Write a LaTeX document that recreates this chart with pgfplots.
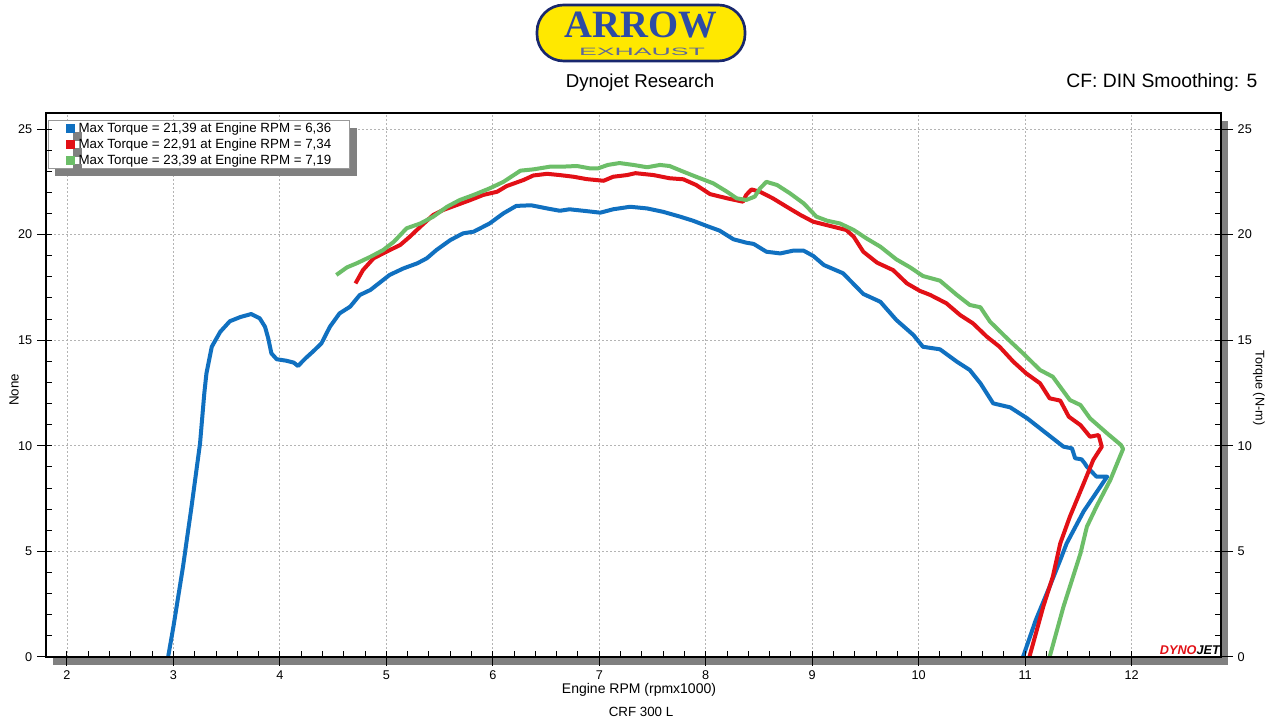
\documentclass[border=0pt]{standalone}
\usepackage{fontspec}
\setmainfont{Liberation Sans}
\newfontfamily\serifb{Liberation Serif}
\usepackage{pgfplots}
\pgfplotsset{compat=1.18}
\usetikzlibrary{backgrounds,shadows}
\definecolor{cblue}{RGB}{16,112,192}
\definecolor{cred}{RGB}{226,16,22}
\definecolor{cgreen}{RGB}{108,190,104}
\definecolor{shgray}{RGB}{128,128,128}
\definecolor{gridc}{RGB}{180,180,180}
\definecolor{navy}{RGB}{25,40,110}
\definecolor{logoyellow}{RGB}{255,232,0}
\definecolor{logoblue}{RGB}{45,75,165}

\pgfplotsset{
  common/.style={
    at={(34.5pt,47.25pt)}, anchor=south west,
    width=881.25pt, height=408pt, scale only axis,
    xmin=1.803, xmax=12.84, ymin=0, ymax=25.76,
    xtick={2,...,12}, ytick={0,5,...,25},
    axis line style={line width=0.9pt},
    tick style={black, line width=0.75pt},
    /pgf/number format/assume math mode=true,
    ticklabel style={font=\fontsize{9.5}{11}\selectfont},
  }
}

\begin{document}
\begin{tikzpicture}
\useasboundingbox (0,0) rectangle (960pt,540pt);

% logo
\draw[line width=2pt, draw=navy, fill=logoyellow, rounded corners=20pt] (402.75pt,494.25pt) rectangle (558.75pt,536.25pt);
\node[text=logoblue, inner sep=0pt, font=\serifb\bfseries\fontsize{29}{29}\selectfont] at (480.5pt,521pt) {ARROW};
\node[text=navy!70, inner sep=0pt, xscale=2.5, transform shape, font=\fontsize{8}{8}\selectfont] at (481.5pt,501pt) {EXHAUST};

% titles
\node[font=\fontsize{14}{16}\selectfont] at (480pt,477.75pt) {Dynojet Research};
\node[font=\fontsize{14.5}{16}\selectfont, anchor=east] at (946.5pt,477.75pt) {CF: DIN Smoothing: 5};
\node[font=\fontsize{10.5}{12}\selectfont] at (479.25pt,22.5pt) {Engine RPM (rpmx1000)};
\node[font=\fontsize{10}{12}\selectfont] at (480.75pt,6pt) {CRF 300 L};
\node[font=\fontsize{10}{12}\selectfont, rotate=90] at (10.5pt,247.5pt) {None};
\node[font=\fontsize{9.5}{12}\selectfont, rotate=-90] at (944.25pt,249pt) {Torque (N-m)};

\begin{axis}[common, name=ax,
  tick align=outside, major tick length=6.75pt, minor tick num=0,
  tick pos=left,
  grid=major, major grid style={gridc, line width=0.6pt, dash pattern=on 1.5pt off 1.5pt},
  axis background/.style={fill=white},
  legend cell align=left,
  legend style={at={(0,1)}, anchor=north west, xshift=1.3pt, yshift=-5.25pt,
    draw=gray!80, fill=white, line width=0.6pt,
    general shadow={fill=shgray, draw=none, shadow xshift=5.25pt, shadow yshift=-6pt},
    inner xsep=13.2pt, inner ysep=0pt, row sep=0pt, column sep=2.5pt,
    font=\fontsize{10}{12}\selectfont,
    nodes={inner sep=0.5pt, text height=8.3pt, text depth=2.7pt}},
  legend image code/.code={\path[fill, draw=none] (0pt,-3.3pt) rectangle (6.6pt,3.3pt);},
]
\addplot[color=cblue, line width=3pt, line join=round] coordinates {
(2.95,0) (3.00,1.44) (3.09,4.28) (3.17,7.12) (3.25,10.12) (3.29,12.49) (3.31,13.43) (3.36,14.69) (3.44,15.4) (3.53,15.9) (3.63,16.1) (3.73,16.24) (3.81,16.04) (3.86,15.64) (3.89,15.1) (3.92,14.38) (3.97,14.1) (4.06,14.03) (4.13,13.94) (4.17,13.78) (4.24,14.14) (4.31,14.46) (4.39,14.85) (4.47,15.64) (4.56,16.27) (4.66,16.59) (4.75,17.14) (4.85,17.38) (5.03,18.09) (5.16,18.4) (5.29,18.64) (5.38,18.88) (5.47,19.27) (5.60,19.74) (5.72,20.06) (5.82,20.14) (5.97,20.53) (6.10,21.01) (6.22,21.36) (6.36,21.39) (6.51,21.24) (6.63,21.13) (6.72,21.2) (6.85,21.13) (7.01,21.04) (7.13,21.2) (7.29,21.32) (7.45,21.24) (7.60,21.08) (7.76,20.85) (7.88,20.66) (8.01,20.41) (8.13,20.19) (8.26,19.78) (8.38,19.62) (8.45,19.56) (8.57,19.19) (8.70,19.11) (8.82,19.24) (8.92,19.24) (9.01,18.99) (9.11,18.56) (9.29,18.17) (9.48,17.19) (9.64,16.82) (9.79,15.96) (9.95,15.25) (10.04,14.69) (10.20,14.57) (10.36,13.98) (10.48,13.59) (10.58,12.96) (10.70,12.01) (10.86,11.82) (11.02,11.3) (11.20,10.59) (11.36,9.96) (11.44,9.88) (11.47,9.41) (11.53,9.36) (11.56,9.17) (11.58,9.01) (11.67,8.54) (11.77,8.54) (11.55,6.9) (11.39,5.38) (11.33,4.59) (11.23,3.33) (11.10,1.75) (10.98,0)};
\addlegendentry{Max Torque = 21,39 at Engine RPM = 6,36}
\addplot[color=cred, line width=3pt, line join=round] coordinates {
(4.71,17.69) (4.78,18.32) (4.88,18.88) (5.0,19.19) (5.13,19.51) (5.22,19.9) (5.32,20.38) (5.44,20.93) (5.53,21.16) (5.66,21.4) (5.79,21.64) (5.91,21.88) (6.04,22.03) (6.13,22.3) (6.29,22.59) (6.38,22.8) (6.51,22.88) (6.63,22.82) (6.76,22.74) (6.88,22.63) (7.04,22.55) (7.13,22.74) (7.26,22.82) (7.34,22.91) (7.51,22.82) (7.66,22.67) (7.79,22.62) (7.91,22.35) (8.04,21.92) (8.2,21.72) (8.35,21.56) (8.38,21.88) (8.43,22.14) (8.51,22.03) (8.63,21.72) (8.76,21.32) (8.89,20.93) (9.01,20.61) (9.17,20.41) (9.32,20.22) (9.39,19.9) (9.48,19.19) (9.61,18.67) (9.76,18.32) (9.89,17.69) (10.01,17.34) (10.11,17.14) (10.26,16.75) (10.39,16.19) (10.51,15.8) (10.64,15.17) (10.76,14.69) (10.89,13.98) (11.01,13.43) (11.14,12.96) (11.23,12.25) (11.33,12.14) (11.41,11.38) (11.52,10.98) (11.61,10.43) (11.69,10.51) (11.72,9.96) (11.64,9.33) (11.55,8.22) (11.42,6.64) (11.33,5.38) (11.26,3.8) (11.17,2.38) (11.04,0)};
\addlegendentry{Max Torque = 22,91 at Engine RPM = 7,34}
\addplot[color=cgreen, line width=3pt, line join=round] coordinates {
(4.53,18.09) (4.63,18.45) (4.72,18.64) (4.85,18.95) (4.97,19.27) (5.07,19.66) (5.19,20.3) (5.32,20.53) (5.44,20.85) (5.57,21.32) (5.69,21.64) (5.82,21.88) (5.97,22.19) (6.1,22.5) (6.26,23.03) (6.38,23.09) (6.54,23.22) (6.66,23.22) (6.79,23.25) (6.91,23.14) (6.99,23.14) (7.08,23.3) (7.19,23.39) (7.32,23.3) (7.45,23.19) (7.57,23.3) (7.66,23.25) (7.79,22.98) (7.91,22.74) (8.07,22.43) (8.2,22.03) (8.29,21.72) (8.38,21.64) (8.46,21.8) (8.51,22.19) (8.57,22.5) (8.67,22.35) (8.79,21.96) (8.92,21.48) (9.04,20.85) (9.14,20.66) (9.26,20.53) (9.39,20.22) (9.51,19.82) (9.64,19.43) (9.79,18.83) (9.92,18.45) (10.04,18.04) (10.2,17.82) (10.36,17.14) (10.48,16.67) (10.58,16.56) (10.67,15.88) (10.83,15.09) (10.98,14.38) (11.14,13.59) (11.26,13.27) (11.42,12.17) (11.52,11.93) (11.61,11.3) (11.77,10.59) (11.9,10.04) (11.92,9.85) (11.8,8.38) (11.67,7.12) (11.58,6.17) (11.52,4.91) (11.45,3.8) (11.36,2.38) (11.23,0)};
\addlegendentry{Max Torque = 23,39 at Engine RPM = 7,19}
\end{axis}

\begin{axis}[common, xtick=\empty, ytick pos=right, yticklabel pos=right,
  tick align=outside, major tick length=9pt, minor tick num=0]
\end{axis}

\begin{axis}[common, tick align=inside, minor x tick num=4, minor y tick num=4,
  major tick length=4.5pt, minor tick length=4.5pt,
  xticklabels={}, yticklabels={}, xtick pos=left, ytick pos=both]
\end{axis}

\node[anchor=base east, inner sep=0pt, font=\bfseries\itshape\fontsize{9.5}{10}\selectfont] at (915pt,49pt) {\textcolor{cred}{DYNO}JET};

\begin{scope}[on background layer]
\fill[shgray] ([xshift=5.25pt,yshift=-6pt]ax.south west) rectangle ([xshift=5.25pt,yshift=-6pt]ax.north east);
\end{scope}
\end{tikzpicture}
\end{document}
